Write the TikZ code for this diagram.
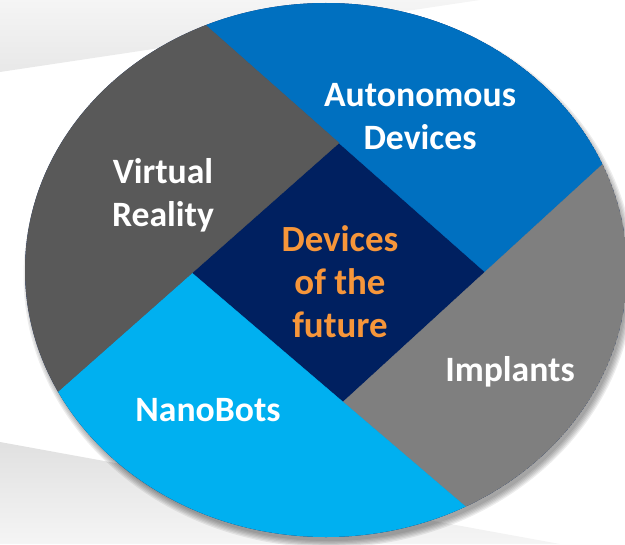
\documentclass[tikz,border=0pt]{standalone}
\usepackage{fontspec}
\setmainfont{Carlito}
\usetikzlibrary{calc}
\definecolor{vrgray}{HTML}{595959}
\definecolor{autoblue}{HTML}{0070C0}
\definecolor{impgray}{HTML}{7F7F7F}
\definecolor{nanoblue}{HTML}{00B0F0}
\definecolor{navy}{HTML}{002060}
\definecolor{devorange}{HTML}{F7963A}

\begin{document}
\begin{tikzpicture}
  [x=0.02cm,y=-0.02cm,every node/.style={text=white,align=center,font=\bfseries\fontsize{20.3}{24.5}\selectfont}]
  \tikzstyle{piece}=[line width=0.2pt]
  \useasboundingbox (0,0) rectangle (625,544);

  % background swooshes
  \shade[top color=black!4,bottom color=black!9] (0,0) -- (480,0) -- (0,72) -- cycle;
  \shade[top color=black!12,bottom color=black!4] (0,442) -- (560,544) -- (0,544) -- cycle;

  % soft shadow
  \foreach \i in {0,...,5}
    \fill[black,opacity=0.07] (329,276) ellipse [x radius=299+1.3*\i, y radius=265+1.3*\i];

  \coordinate (t) at (339,143);
  \coordinate (r) at (485,272);
  \coordinate (b) at (343,402);
  \coordinate (l) at (192,273);

  \begin{scope}
    \clip (326,270) ellipse [x radius=301, y radius=267];
    \fill[navy] (326,270) ellipse [x radius=301, y radius=267];
    \filldraw[piece,fill=autoblue,draw=autoblue] (t) -- (r) -- ($(b)!4!(r)$) -- ($(r)!4!(t)$) -- cycle;
    \filldraw[piece,fill=impgray,draw=impgray] (r) -- (b) -- ($(l)!4!(b)$) -- ($(b)!4!(r)$) -- cycle;
    \filldraw[piece,fill=nanoblue,draw=nanoblue] (b) -- (l) -- ($(t)!4!(l)$) -- ($(l)!4!(b)$) -- cycle;
    \filldraw[piece,fill=vrgray,draw=vrgray] (l) -- (t) -- ($(r)!4!(t)$) -- ($(t)!4!(l)$) -- cycle;
  \end{scope}

  \node (vr) at (163,195) {Virtual\\Reality};
  \node (ad) at (420,117) {Autonomous\\Devices};
  \node (imp) at (510,372) {Implants};
  \node (nb) at (208,410) {NanoBots};
  \node (dof) [text=devorange,font=\bfseries\fontsize{21}{24.5}\selectfont] at (340,282) {Devices\\of the\\future};
\end{tikzpicture}
\end{document}
